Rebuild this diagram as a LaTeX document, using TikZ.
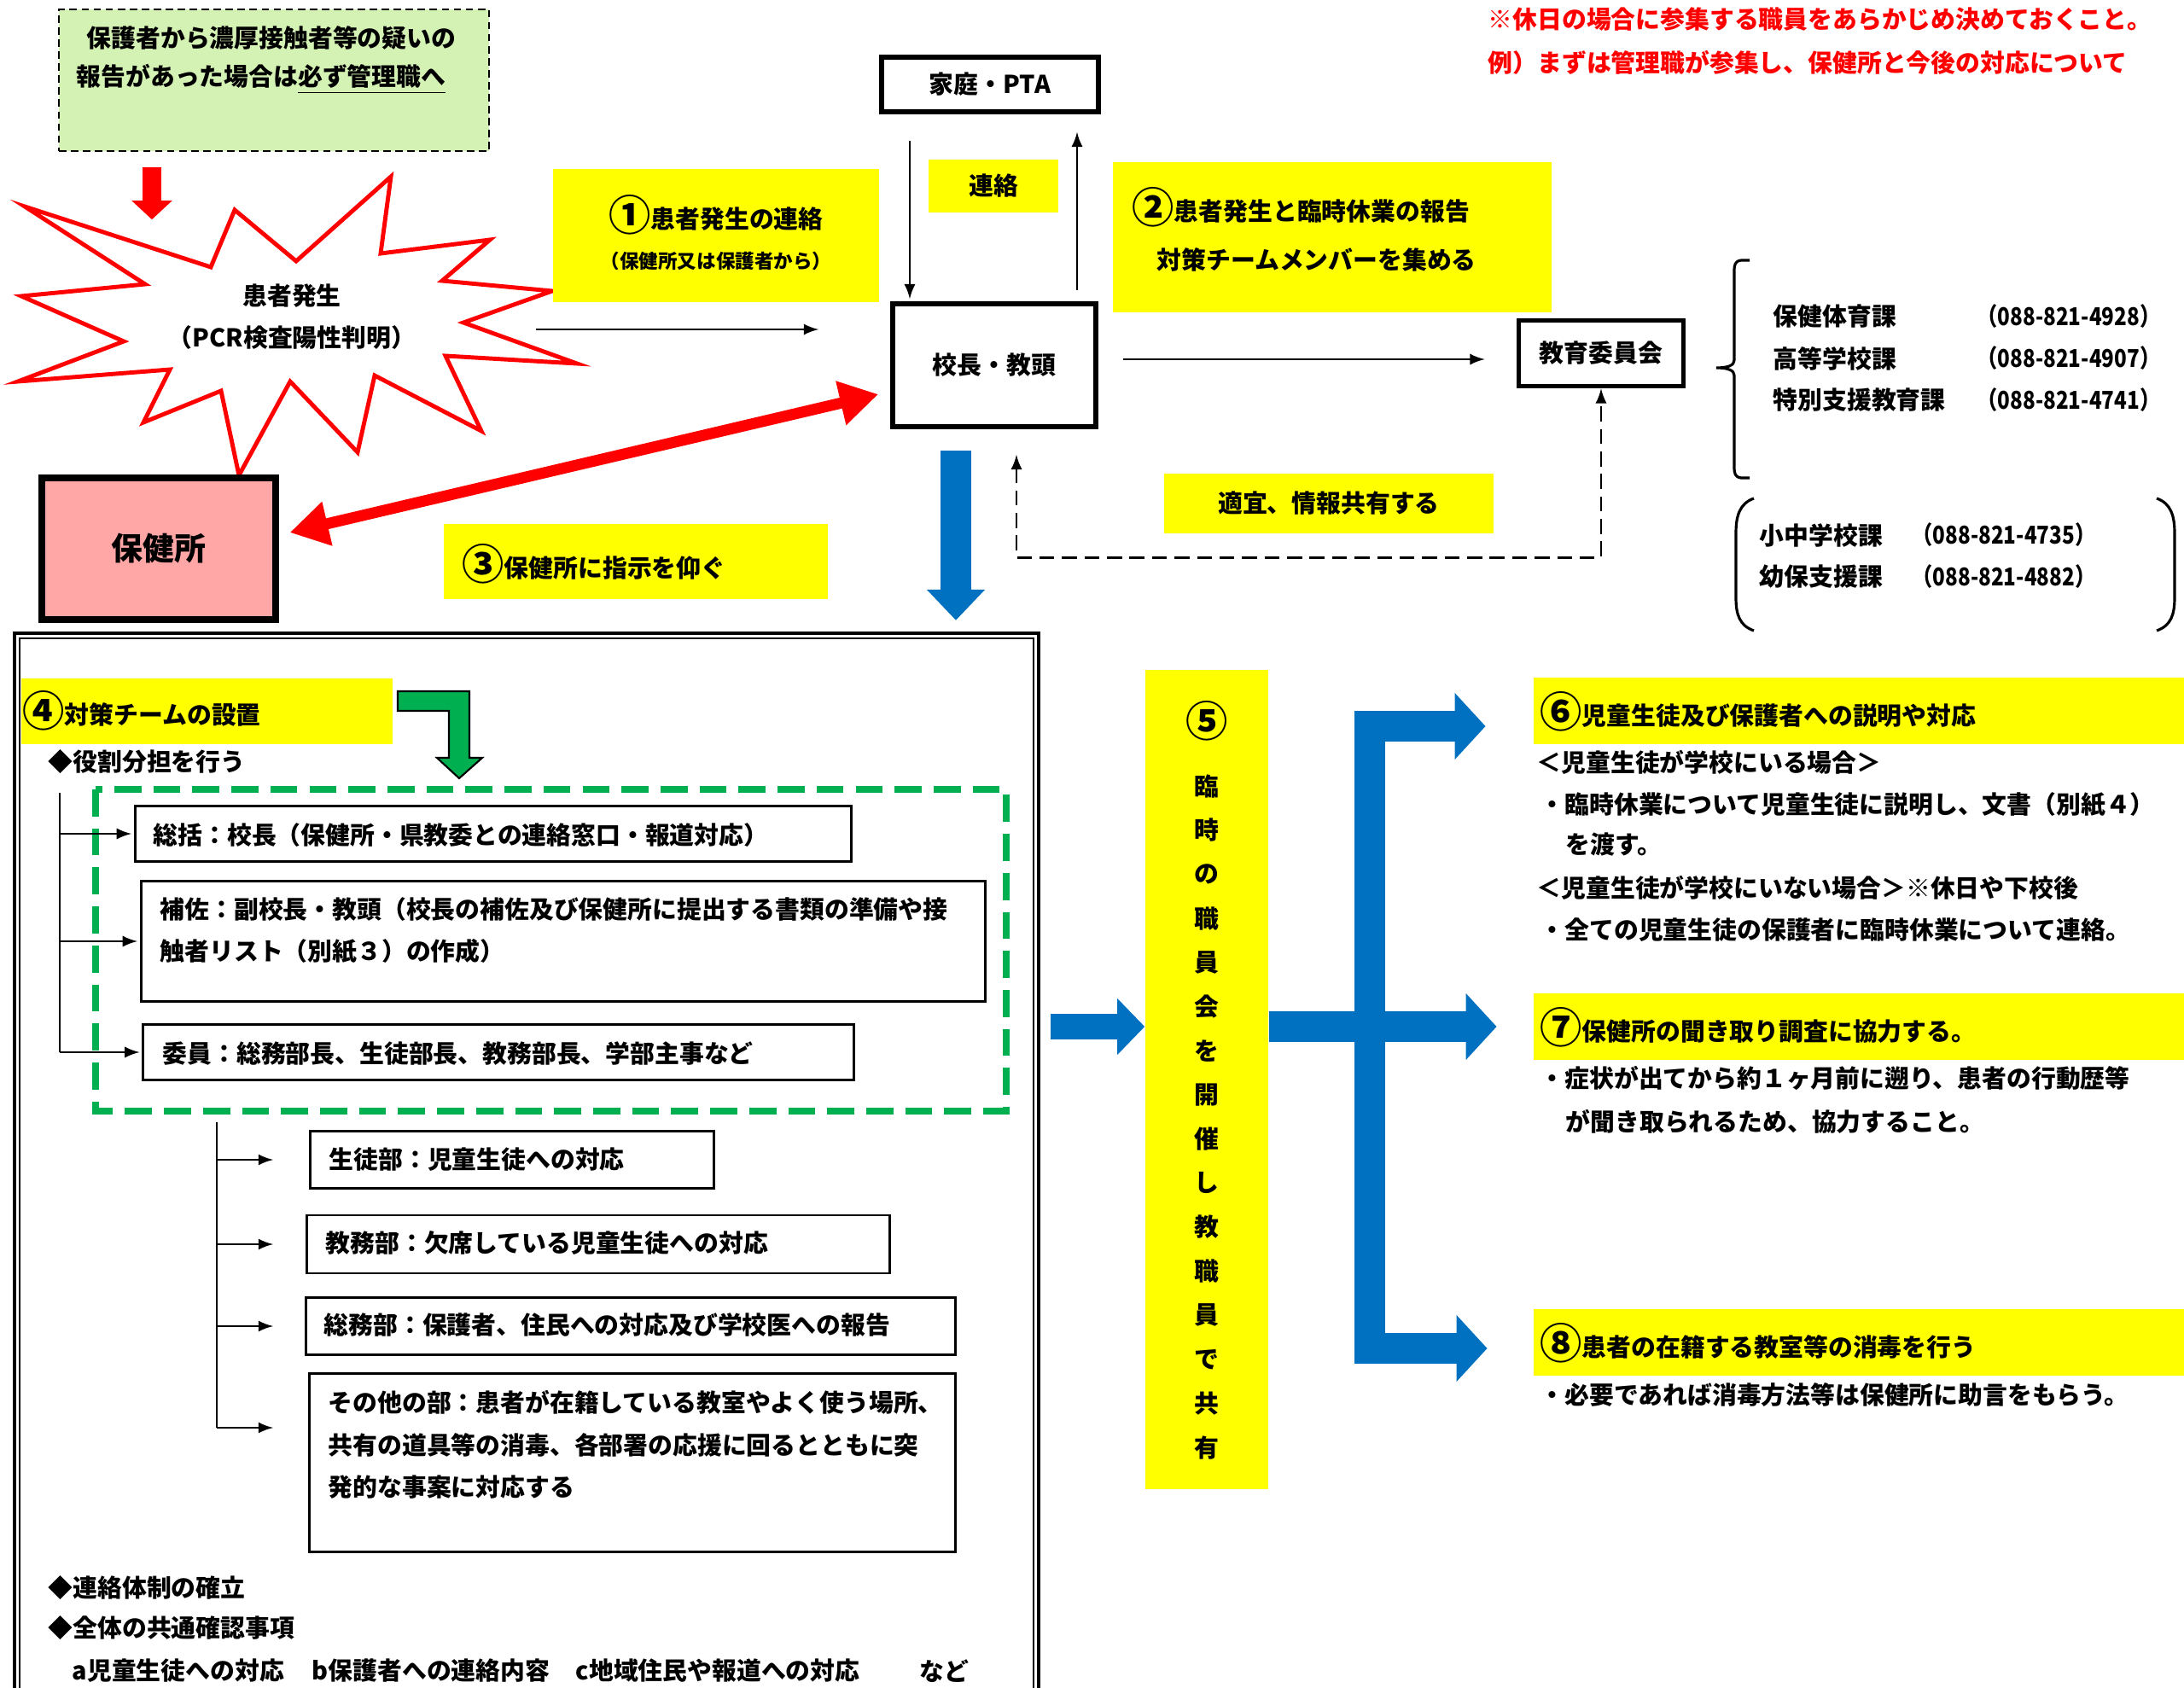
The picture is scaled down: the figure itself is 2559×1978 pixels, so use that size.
\documentclass[tikz,border=0pt]{standalone}
\usepackage{fontspec}
\usepackage{graphicx}
\setmainfont{Noto Sans CJK JP}
\usetikzlibrary{arrows.meta,calc}
\definecolor{lgreen}{HTML}{D5F2B5}
\definecolor{hyellow}{HTML}{FFFF00}
\definecolor{pinkbox}{HTML}{FFA6A6}
\definecolor{tblue}{HTML}{0070C0}
\definecolor{tgreen}{HTML}{00B050}
\newcommand{\jp}{\fontsize{8.2}{9}\selectfont\bfseries}
\newcommand{\cnum}[1]{\raisebox{-0.12em}{\fontsize{14}{14}\selectfont #1}}
\newcommand{\telno}[1]{\scalebox{0.84}[1]{#1}}
\tikzset{
 txt/.style={inner sep=0pt, anchor=west},
 plainbox/.style={draw, line width=0.75pt, inner sep=0pt},
 thickbox/.style={draw, line width=1.6pt, inner sep=0pt},
 ybox/.style={fill=hyellow, inner sep=0pt},
 thin/.style={line width=0.7pt},
}
\begin{document}
\begin{tikzpicture}[x=0.01cm,y=-0.01cm,font=\jp]
\clip (0,0) rectangle (2559,1978);
\node[draw, dash pattern=on 2.5pt off 1.5pt, line width=0.6pt, fill=lgreen, minimum width=5.04cm, minimum height=1.66cm, anchor=north west] (notice) at (68,10) {};
\node[txt] (notice1) at (101,44) {保護者から濃厚接触者等の疑いの};
\node[txt] (notice2) at (89,93) {報告があった場合は\underline{必ず管理職へ}};
\draw[red, line width=0.22cm, -{Triangle[width=0.46cm,length=0.22cm]}] ($(notice.south west)+(110,18)$) -- ++(0,61);
\draw[red, line width=1.4pt, fill=white] (29,242) -- (247,313) -- (275,246) -- (347,306) -- (458,207) -- (446,297) -- (574,281) -- (518,329) -- (647,341) -- (543,378) -- (676,426) -- (522,417) -- (564,505) -- (439,440) -- (419,530) -- (340,447) -- (280,557) -- (259,458) -- (168,495) -- (199,433) -- (21,447) -- (145,400) -- (25,347) -- (170,333) -- cycle;
\node[inner sep=0pt] (patient1) at (342,347) {患者発生};
\node[inner sep=0pt] (patient2) at (342,396) {（PCR検査陽性判明）};
\node[draw, line width=2.3pt, fill=pinkbox, minimum width=2.73cm, minimum height=1.66cm] (hc) at (186,643) {\fontsize{10.5}{11}\selectfont 保健所};
\node[thickbox, minimum width=2.54cm, minimum height=0.64cm] (home) at (1160,99) {家庭・PTA};
\node[thickbox, minimum width=2.38cm, minimum height=1.44cm] (head) at (1165,428) {校長・教頭};
\node[thickbox, minimum width=1.93cm, minimum height=0.77cm] (board) at (1876,414) {教育委員会};
\node[ybox, minimum width=1.52cm, minimum height=0.62cm] (contact) at (1164,218) {連絡};
\node[ybox, minimum width=3.82cm, minimum height=1.56cm] (step1) at (839,276) {};
\node[inner sep=0pt] (step1a) at (839,252) {\cnum{①}患者発生の連絡};
\node[inner sep=0pt] (step1b) at (839,306) {\fontsize{6.4}{7}\selectfont（保健所又は保護者から）};
\node[ybox, minimum width=5.14cm, minimum height=1.76cm] (step2) at (1561,278) {};
\node[txt] (step2a) at (1326,243) {\cnum{②}患者発生と臨時休業の報告};
\node[txt] (step2b) at (1355,304) {対策チームメンバーを集める};
\node[ybox, minimum width=4.49cm, minimum height=0.87cm] (step3) at (745,658) {};
\node[txt] (step3a) at (541,661) {\cnum{③}保健所に指示を仰ぐ};
\node[ybox, minimum width=3.86cm, minimum height=0.69cm] (share) at (1557,590) {適宜、情報共有する};
\node[txt, red] (note1) at (1743,23) {※休日の場合に参集する職員をあらかじめ決めておくこと。};
\node[txt, red] (note2) at (1743,73) {例）まずは管理職が参集し、保健所と今後の対応について};
\draw[thin, -latex] ($(home.south)+(-94,31)$) -- ($(head.north)+(-99,-3)$);
\draw[thin, -latex] ($(head.north)+(97,-13)$) -- ($(home.south)+(102,21)$);
\coordinate (burst) at (628,386);
\draw[thin, -latex, shorten >=0.84cm] (burst) -- (burst -| head.west);
\coordinate (rep) at ($(head.east)+(29,-7)$);
\draw[thin, -latex, shorten >=0.37cm] (rep) -- (rep -| board.west);
\draw[thin, dash pattern=on 5pt off 2.5pt, latex-latex] ($(head.south)+(26,30)$) |- ($(board.south)+(0,198)$) -- (board.south);
\draw[red, line width=0.13cm, {Triangle[width=0.5cm,length=0.45cm]}-{Triangle[width=0.5cm,length=0.45cm]}] ($(hc.east)+(13,-19)$) -- ($(head.west)+(-14,34)$);
\draw[tblue, line width=0.35cm, -{Triangle[width=0.66cm,length=0.36cm]}] ($(head.south)+(-45,25)$) -- ++(0,199);
\draw[line width=0.9pt] (2050,305) -- (2040,305) .. controls (2033,306) and (2032,310) .. (2032,318) -- (2032,422) .. controls (2032,428) and (2025,431) .. (2011,431) .. controls (2025,431) and (2032,434) .. (2032,440) -- (2032,547) .. controls (2032,555) and (2033,559) .. (2040,560) -- (2050,560);
\draw[line width=0.9pt] (2055,584) .. controls (2038,590) and (2034,605) .. (2034,625) -- (2034,700) .. controls (2034,720) and (2038,733) .. (2055,739);
\draw[line width=0.9pt] (2527,584) .. controls (2544,590) and (2548,605) .. (2548,625) -- (2548,700) .. controls (2548,720) and (2544,733) .. (2527,739);
\node[txt] (sec1) at (2077,371) {保健体育課};
\node[txt] (sec2) at (2077,420) {高等学校課};
\node[txt] (sec3) at (2077,469) {特別支援教育課};
\node[txt] (tel1) at (2316,371) {\telno{（088-821-4928）}};
\node[txt] (tel2) at (2316,420) {\telno{（088-821-4907）}};
\node[txt] (tel3) at (2316,469) {\telno{（088-821-4741）}};
\node[txt] (sec4) at (2061,627) {小中学校課};
\node[txt] (sec5) at (2061,676) {幼保支援課};
\node[txt] (tel4) at (2240,627) {\telno{（088-821-4735）}};
\node[txt] (tel5) at (2240,676) {\telno{（088-821-4882）}};
\draw[line width=1.4pt] (17,742) rectangle (1217,2100);
\draw[line width=0.6pt] (23,748) rectangle (1211,2100);
\node[ybox, minimum width=4.35cm, minimum height=0.77cm, anchor=north west] (step4) at (24,794) {};
\node[txt] (step4a) at (26,833) {\cnum{④}対策チームの設置};
\filldraw[fill=tgreen, draw=black, line width=0.6pt] (466,810) -- (550,810) -- (550,888) -- (565,888) -- (538,912) -- (512,888) -- (526,888) -- (526,833) -- (466,833) -- cycle;
\node[txt] (roles) at (56,893) {◆役割分担を行う};
\draw[tgreen, line width=0.08cm, dash pattern=on 9pt off 4pt] (112,925) rectangle (1179,1302);
\node[plainbox, minimum width=8.39cm, minimum height=0.65cm] (chief) at (578,977) {};
\node[plainbox, minimum width=9.89cm, minimum height=1.41cm] (assist) at (660,1103) {};
\node[plainbox, minimum width=8.32cm, minimum height=0.65cm] (member) at (584,1233) {};
\node[txt] (chiefa) at (179,979) {総括：校長（保健所・県教委との連絡窓口・報道対応）};
\node[txt] (assista) at (187,1066) {補佐：副校長・教頭（校長の補佐及び保健所に提出する書類の準備や接};
\node[txt] (assistb) at (187,1115) {触者リスト（別紙３）の作成）};
\node[txt] (membera) at (190,1235) {委員：総務部長、生徒部長、教務部長、学部主事など};
\coordinate (trunk) at (70,929);
\draw[thin] (trunk) -- (trunk |- member.west);
\foreach \b in {chief,assist,member}
  \draw[thin, -latex, shorten >=0.03cm] (trunk |- \b.west) -- (\b.west);
\node[plainbox, minimum width=4.73cm, minimum height=0.67cm] (pupil) at (600,1359) {};
\node[plainbox, minimum width=6.83cm, minimum height=0.68cm] (affairs) at (701,1458) {};
\node[plainbox, minimum width=7.61cm, minimum height=0.67cm] (general) at (739,1554) {};
\node[plainbox, minimum width=7.57cm, minimum height=2.09cm] (other) at (741,1714) {};
\node[txt] (pupila) at (385,1359) {生徒部：児童生徒への対応};
\node[txt] (affairsa) at (381,1456) {教務部：欠席している児童生徒への対応};
\node[txt] (generala) at (379,1552) {総務部：保護者、住民への対応及び学校医への報告};
\node[txt] (othera) at (384,1643) {その他の部：患者が在籍している教室やよく使う場所、};
\node[txt] (otherb) at (384,1693) {共有の道具等の消毒、各部署の応援に回るとともに突};
\node[txt] (otherc) at (384,1743) {発的な事案に対応する};
\coordinate (trunkb) at (254,1315);
\coordinate (otherin) at ($(other.west)+(0,-41)$);
\draw[thin] (trunkb) -- (trunkb |- otherin);
\foreach \b in {pupil,affairs,general,otherin}
  \draw[thin, -latex, shorten >=0.42cm] (trunkb |- \b) -- (\b -| pupil.west);
\node[txt] (liaison) at (56,1861) {◆連絡体制の確立};
\node[txt] (common) at (56,1908) {◆全体の共通確認事項};
\node[txt] (itema) at (84,1958) {a児童生徒への対応};
\node[txt] (itemb) at (365,1958) {b保護者への連絡内容};
\node[txt] (itemc) at (674,1958) {c地域住民や報道への対応};
\node[txt] (itemd) at (1077,1958) {など};
\node[ybox, minimum width=1.44cm, minimum height=9.59cm] (meeting) at (1414,1265) {};
\node[inner sep=0pt] (meetnum) at (1414,845) {\cnum{⑤}};
\foreach \c [count=\i] in {臨,時,の,職,員,会,を,開,催,し,教,職,員,で,共,有}
  \node[inner sep=0pt] (mc\i) at (1414,869.3+51.7*\i) {\c};
\node[ybox, minimum width=7.61cm, minimum height=0.78cm] (b6) at (2178,833) {};
\node[ybox, minimum width=7.61cm, minimum height=0.78cm] (b7) at (2178,1203) {};
\node[ybox, minimum width=7.61cm, minimum height=0.78cm] (b8) at (2178,1573) {};
\node[txt] (b6a) at (1804,834) {\cnum{⑥}児童生徒及び保護者への説明や対応};
\node[txt] (b7a) at (1804,1204) {\cnum{⑦}保健所の聞き取り調査に協力する。};
\node[txt] (b8a) at (1804,1574) {\cnum{⑧}患者の在籍する教室等の消毒を行う};
\node[txt] (r1) at (1800,893) {＜児童生徒が学校にいる場合＞};
\node[txt] (r2) at (1804,943) {・臨時休業について児童生徒に説明し、文書（別紙４）};
\node[txt] (r3) at (1834,990) {を渡す。};
\node[txt] (r4) at (1800,1040) {＜児童生徒が学校にいない場合＞※休日や下校後};
\node[txt] (r5) at (1804,1090) {・全ての児童生徒の保護者に臨時休業について連絡。};
\node[txt] (r6) at (1804,1263) {・症状が出てから約１ヶ月前に遡り、患者の行動歴等};
\node[txt] (r7) at (1834,1314) {が聞き取られるため、協力すること。};
\node[txt] (r8) at (1804,1635) {・必要であれば消毒方法等は保健所に助言をもらう。};
\draw[tblue, line width=0.3cm, -{Triangle[width=0.64cm,length=0.32cm]}] ($(meeting.west)+(-110,-62)$) -- ($(meeting.west)+(0,-62)$);
\draw[tblue, line width=0.36cm, -{Triangle[width=0.76cm,length=0.36cm]}] (meeting.east |- b7.west) -- ($(b7.west)+(-43,0)$);
\coordinate (t6) at ($(b6.west)+(-56,18)$);
\coordinate (t8) at ($(b8.west)+(-54,7)$);
\coordinate (bar) at (1605,851);
\draw[tblue, line width=0.36cm, line join=miter, {Triangle[width=0.76cm,length=0.36cm]}-{Triangle[width=0.76cm,length=0.36cm]}] (t6) -- (bar) -- (bar |- t8) -- (t8);
\end{tikzpicture}
\end{document}
